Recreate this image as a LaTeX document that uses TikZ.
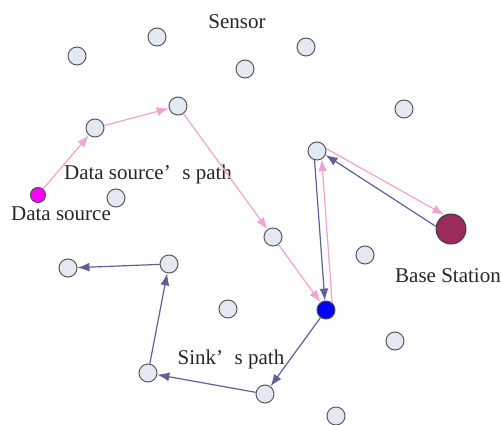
\documentclass[tikz,border=0pt]{standalone}
\usepackage{fontspec}
\setmainfont{Liberation Serif}
\usetikzlibrary{arrows.meta}
\definecolor{pinkline}{HTML}{F2A2CE}
\definecolor{darkline}{HTML}{5E6096}
\definecolor{sensorfill}{HTML}{E3E9F3}
\definecolor{basefill}{HTML}{9A2B5B}
\definecolor{dsfill}{HTML}{FF00FF}
\definecolor{sinkfill}{HTML}{0000FF}
\begin{document}
\begin{tikzpicture}[x=1pt,y=-1pt,
 sensor/.style={circle,draw=black!65,fill=sensorfill,line width=1pt,minimum size=18pt,inner sep=0pt},
 lbl/.style={font=\fontsize{21}{25}\selectfont,text=black!85,inner sep=0pt},
 ppath/.style={draw=pinkline,line width=1.2pt,-{Latex[length=12pt,width=9pt]}},
 dpath/.style={draw=darkline,line width=1.2pt,-{Latex[length=12pt,width=9pt]}}]
\useasboundingbox (0,0) rectangle (501,425);
% sensors
\node[sensor] (s1) at (77,56) {};
\node[sensor] (s2) at (157,37) {};
\node[sensor] (s3) at (245,69) {};
\node[sensor] (s4) at (306,47) {};
\node[sensor] (s5) at (404,109) {};
\node[sensor] (a1) at (95,128) {};
\node[sensor] (a2) at (178,106) {};
\node[sensor] (s6) at (116,198) {};
\node[sensor] (r) at (317,151) {};
\node[sensor] (a3) at (273,237) {};
\node[sensor] (s7) at (365,255) {};
\node[sensor] (b4) at (68,268) {};
\node[sensor] (b3) at (169,264) {};
\node[sensor] (s8) at (228,309) {};
\node[sensor] (s9) at (395,341) {};
\node[sensor] (b2) at (148,373) {};
\node[sensor] (b1) at (265,394) {};
\node[sensor] (s10) at (336,416) {};
% special nodes
\node[circle,draw=black!70,fill=dsfill,line width=1pt,minimum size=15pt,inner sep=0pt] (ds) at (38,195) {};
\node[circle,draw=black!70,fill=sinkfill,line width=1pt,minimum size=18pt,inner sep=0pt] (sink) at (326,310) {};
\node[circle,draw=black!75,fill=basefill,line width=1pt,minimum size=30pt,inner sep=0pt] (bs) at (451,229) {};
% labels
\node[lbl] (lsensor) at (237,22) {Sensor};
\node[lbl] (lpath) at (148,174) {Data source’\hspace{0.55em}s path};
\node[lbl] (lds) at (61,214) {Data source};
\node[lbl] (lbs) at (448,276) {Base Station};
\node[lbl] (lsink) at (231,359) {Sink’\hspace{0.55em}s path};
% data source path (pink)
\draw[ppath] (ds) -- (a1);
\draw[ppath] (a1) -- (a2);
\draw[ppath] (a2) -- (a3);
\draw[ppath] (a3) -- (sink);
\draw[ppath] (sink.50) -- (r.-60);
\draw[ppath] (r.15) -- (bs.115);
% sink path (dark)
\draw[dpath] (bs.170) -- (r.-25);
\draw[dpath] (r.-105) -- (sink.97);
\draw[dpath] (sink) -- (b1);
\draw[dpath] (b1) -- (b2);
\draw[dpath] (b2) -- (b3);
\draw[dpath] (b3) -- (b4);
\end{tikzpicture}
\end{document}
